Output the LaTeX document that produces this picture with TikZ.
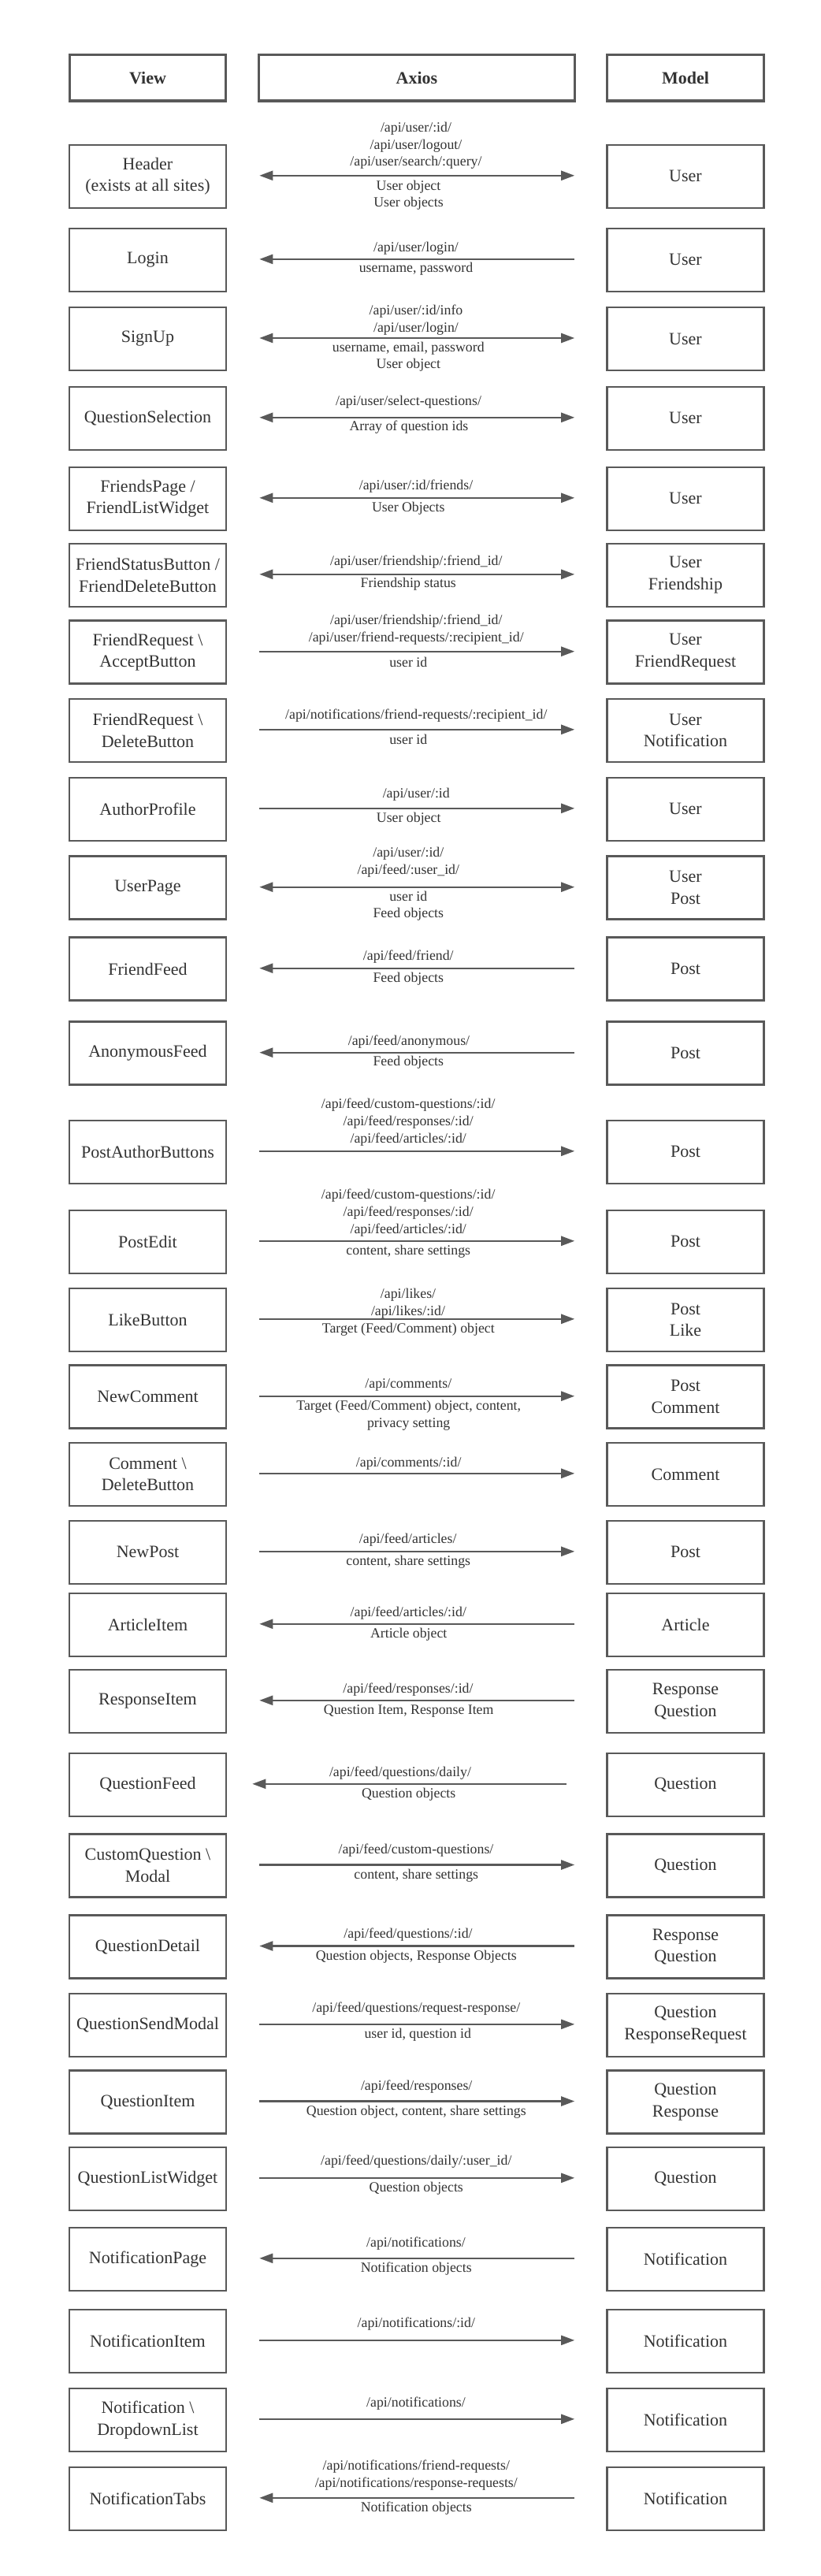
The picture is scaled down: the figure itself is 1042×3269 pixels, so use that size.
\documentclass[tikz,border=0pt]{standalone}
\usepackage{fontspec}
\setmainfont{Liberation Serif}
\usetikzlibrary{arrows.meta}
\definecolor{linegray}{HTML}{595959}
\definecolor{inkgray}{HTML}{333333}
\def\u{0.75pt}
\newcommand\rowpair[4]{%
  \node[vbox] (v#1) at (187.5,#2) {#3};
  \node[vbox] (m#1) at (870,#2) {#4};}
\newcommand\linkrow[2]{%
  \draw[#2] ([xshift=41*\u,yshift=\u]v#1.east) -- ([xshift=-40*\u,yshift=\u]m#1.west);}
\begin{document}
\begin{tikzpicture}[x=0.75pt,y=-0.75pt,
  hdr/.style={draw=linegray,line width=2.6pt,minimum height=58.5*\u,inner sep=0pt,
    font=\fontsize{16.5}{20.8}\selectfont\bfseries,text=inkgray},
  vbox/.style={draw=linegray,line width=1.9pt,minimum width=199*\u,minimum height=80*\u,
    inner sep=0pt,align=center,font=\fontsize{16.5}{20.8}\selectfont,text=inkgray},
  lab/.style={inner sep=0pt,align=center,font=\fontsize{13.35}{16.3}\selectfont,text=inkgray},
  conn/.style={draw=linegray,line width=1.7pt},
  fwd/.style={conn,-{Triangle[length=12.75pt,width=9pt]}},
  bwd/.style={conn,{Triangle[length=12.75pt,width=9pt]}-},
  twoway/.style={conn,{Triangle[length=12.75pt,width=9pt]}-{Triangle[length=12.75pt,width=9pt]}}
]
\fill[white] (0,0) rectangle (1042,3269);
\useasboundingbox (0,0) rectangle (1042,3269);

% header row
\node[hdr,minimum width=197.5*\u] (hv) at (187.5,98.9) {View};
\node[hdr,minimum width=400.5*\u] (ha) at (529,98.9) {Axios};
\node[hdr,minimum width=198.5*\u] (hm) at (870,98.9) {Model};

% 1
\rowpair{1}{223.8}{Header\\(exists at all sites)}{User}
\linkrow{1}{twoway}
\node[lab] (a1) at (528,185) {/api/user/:id/\\/api/user/logout/\\/api/user/search/:query/};
\node[lab] (b1) at (518.5,247.8) {User object\\User objects};
% 2
\rowpair{2}{329.9}{Login}{User}
\linkrow{2}{bwd}
\node[lab] (a2) at (528,315) {/api/user/login/};
\node[lab] (b2) at (528,341.7) {username, password};
% 3
\rowpair{3}{430}{SignUp}{User}
\linkrow{3}{twoway}
\node[lab] (a3) at (528,406.5) {/api/user/:id/info\\/api/user/login/};
\node[lab] (b3) at (518.3,452.8) {username, email, password\\User object};
% 4
\rowpair{4}{530.8}{QuestionSelection}{User}
\linkrow{4}{twoway}
\node[lab] (a4) at (518.5,510.7) {/api/user/select-questions/};
\node[lab] (b4) at (519,541.7) {Array of question ids};
% 5
\rowpair{5}{632.8}{FriendsPage /\\FriendListWidget}{User}
\linkrow{5}{twoway}
\node[lab] (a5) at (528,616.7) {/api/user/:id/friends/};
\node[lab] (b5) at (518.3,645) {User Objects};
% 6
\rowpair{6}{729.8}{FriendStatusButton /\\FriendDeleteButton}{User\\Friendship}
\linkrow{6}{twoway}
\node[lab] (a6) at (528.3,713.3) {/api/user/friendship/:friend\_id/};
\node[lab] (b6) at (518.3,741.7) {Friendship status};
% 7
\rowpair{7}{827.7}{FriendRequest \textbackslash\\AcceptButton}{User\\FriendRequest}
\linkrow{7}{fwd}
\node[lab] (a7) at (528.3,798.8) {/api/user/friendship/:friend\_id/\\/api/user/friend-requests/:recipient\_id/};
\node[lab] (b7) at (518.3,840) {user id};
% 8
\rowpair{8}{926.8}{FriendRequest \textbackslash\\DeleteButton}{User\\Notification}
\linkrow{8}{fwd}
\node[lab] (a8) at (528.3,908.3) {/api/notifications/friend-requests/:recipient\_id/};
\node[lab] (b8) at (518.3,938.3) {user id};
% 9
\rowpair{9}{1026.8}{AuthorProfile}{User}
\linkrow{9}{fwd}
\node[lab] (a9) at (528.3,1008.3) {/api/user/:id};
\node[lab] (b9) at (518.7,1039) {User object};
% 10
\rowpair{10}{1126.7}{UserPage}{User\\Post}
\linkrow{10}{twoway}
\node[lab] (a10) at (518.3,1094.2) {/api/user/:id/\\/api/feed/:user\_id/};
\node[lab] (b10) at (518.3,1149.7) {user id\\Feed objects};
% 11
\rowpair{11}{1229.7}{FriendFeed}{Post}
\linkrow{11}{bwd}
\node[lab] (a11) at (518.3,1214) {/api/feed/friend/};
\node[lab] (b11) at (518.3,1242) {Feed objects};
% 12
\rowpair{12}{1336.7}{AnonymousFeed}{Post}
\linkrow{12}{bwd}
\node[lab] (a12) at (519,1322) {/api/feed/anonymous/};
\node[lab] (b12) at (518.3,1348.7) {Feed objects};
% 13
\rowpair{13}{1461.8}{PostAuthorButtons}{Post}
\linkrow{13}{fwd}
\node[lab] (a13) at (518.2,1424) {/api/feed/custom-questions/:id/\\/api/feed/responses/:id/\\/api/feed/articles/:id/};
% 14
\rowpair{14}{1575.8}{PostEdit}{Post}
\linkrow{14}{fwd}
\node[lab] (a14) at (518.2,1539.2) {/api/feed/custom-questions/:id/\\/api/feed/responses/:id/\\/api/feed/articles/:id/};
\node[lab] (b14) at (518.3,1588) {content, share settings};
% 15
\rowpair{15}{1674.8}{LikeButton}{Post\\Like}
\linkrow{15}{fwd}
\node[lab] (a15) at (518,1654.2) {/api/likes/\\/api/likes/:id/};
\node[lab] (b15) at (518.3,1687.3) {Target (Feed/Comment) object};
% 16
\rowpair{16}{1772.7}{NewComment}{Post\\Comment}
\linkrow{16}{fwd}
\node[lab] (a16) at (518.3,1757.7) {/api/comments/};
\node[lab] (b16) at (518.7,1796.2) {Target (Feed/Comment) object, content,\\privacy setting};
% 17
\rowpair{17}{1870.8}{Comment \textbackslash\\DeleteButton}{Comment}
\linkrow{17}{fwd}
\node[lab] (a17) at (518.7,1856.7) {/api/comments/:id/};
% 18
\rowpair{18}{1969.8}{NewPost}{Post}
\linkrow{18}{fwd}
\node[lab] (a18) at (517.7,1954) {/api/feed/articles/};
\node[lab] (b18) at (518.3,1982.3) {content, share settings};
% 19
\rowpair{19}{2061.8}{ArticleItem}{Article}
\linkrow{19}{bwd}
\node[lab] (a19) at (518.3,2046.7) {/api/feed/articles/:id/};
\node[lab] (b19) at (518.7,2074) {Article object};
% 20
\rowpair{20}{2158.8}{ResponseItem}{Response\\Question}
\linkrow{20}{bwd}
\node[lab] (a20) at (518,2144) {/api/feed/responses/:id/};
\node[lab] (b20) at (518.7,2171.7) {Question Item, Response Item};
% 21
\rowpair{21}{2264.8}{QuestionFeed}{Question}
\draw[bwd] ([xshift=32*\u,yshift=\u]v21.east) -- ([xshift=-50*\u,yshift=\u]m21.west);
\node[lab] (a21) at (508,2250) {/api/feed/questions/daily/};
\node[lab] (b21) at (518.7,2276.7) {Question objects};
% 22
\rowpair{22}{2367.5}{CustomQuestion \textbackslash\\Modal}{Question}
\linkrow{22}{fwd}
\node[lab] (a22) at (528,2348.3) {/api/feed/custom-questions/};
\node[lab] (b22) at (528.3,2380) {content, share settings};
% 23
\rowpair{23}{2470.5}{QuestionDetail}{Response\\Question}
\linkrow{23}{bwd}
\node[lab] (a23) at (518,2455) {/api/feed/questions/:id/};
\node[lab] (b23) at (528.3,2482.7) {Question objects, Response Objects};
% 24
\rowpair{24}{2569.8}{QuestionSendModal}{Question\\ResponseRequest}
\linkrow{24}{fwd}
\node[lab] (a24) at (528.3,2549) {/api/feed/questions/request-response/};
\node[lab] (b24) at (530.3,2581.7) {user id, question id};
% 25
\rowpair{25}{2667.5}{QuestionItem}{Question\\Response}
\linkrow{25}{fwd}
\node[lab] (a25) at (528.7,2648.3) {/api/feed/responses/};
\node[lab] (b25) at (528.3,2680) {Question object, content, share settings};
% 26
\rowpair{26}{2764.8}{QuestionListWidget}{Question}
\linkrow{26}{fwd}
\node[lab] (a26) at (528.3,2743.3) {/api/feed/questions/daily/:user\_id/};
\node[lab] (b26) at (528.3,2776.7) {Question objects};
% 27
\rowpair{27}{2866.8}{NotificationPage}{Notification}
\linkrow{27}{bwd}
\node[lab] (a27) at (528,2846.7) {/api/notifications/};
\node[lab] (b27) at (528.3,2879) {Notification objects};
% 28
\rowpair{28}{2970.8}{NotificationItem}{Notification}
\linkrow{28}{fwd}
\node[lab] (a28) at (528.3,2949.3) {/api/notifications/:id/};
% 29
\rowpair{29}{3070.8}{Notification \textbackslash\\DropdownList}{Notification}
\linkrow{29}{fwd}
\node[lab] (a29) at (528,3050) {/api/notifications/};
% 30
\rowpair{30}{3170.8}{NotificationTabs}{Notification}
\linkrow{30}{bwd}
\node[lab] (a30) at (528.3,3140.8) {/api/notifications/friend-requests/\\/api/notifications/response-requests/};
\node[lab] (b30) at (528.3,3182.7) {Notification objects};
\end{tikzpicture}
\end{document}
